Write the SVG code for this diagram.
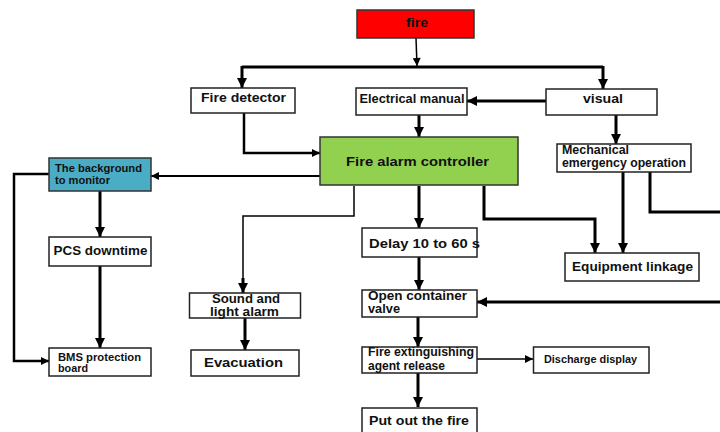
<svg xmlns="http://www.w3.org/2000/svg" width="720" height="432" viewBox="0 0 720 432">
<defs>
<marker id="ah" markerUnits="userSpaceOnUse" markerWidth="10" markerHeight="10" refX="10" refY="5" orient="auto" viewBox="0 0 10 10">
<path d="M0,0 L10,5 L0,10 z" fill="#000"/>
</marker>
<marker id="ahs" markerUnits="userSpaceOnUse" markerWidth="9" markerHeight="8" refX="10" refY="5" orient="auto" viewBox="0 0 10 10">
<path d="M0,0 L10,5 L0,10 z" fill="#000"/>
</marker>
</defs>
<style>
.box{fill:#fff;stroke:#222;stroke-width:1.5}
.t{font-family:"Liberation Sans",Arial,sans-serif;font-weight:bold;fill:#111;font-size:12px}
.s{font-size:10px}
.c{fill:none;stroke:#000;stroke-width:3}
.c.a{marker-end:url(#ah)}
.n{fill:none;stroke:#000;stroke-width:1.5}
.n.a{marker-end:url(#ahs)}
</style>
<rect width="720" height="432" fill="#fff"/>
<g id="connectors">
<path class="n a" d="M416,38 L417,66"/>
<path class="c" d="M242,67 H603"/>
<path class="c a" d="M242,66 V88"/>
<path class="c a" d="M603,66 V89"/>
<path class="c a" d="M546,101 H467"/>
<path class="c a" d="M419,115 V137"/>
<path class="n a" d="M244,113 V153 H320" style="stroke-width:2.5"/>
<path class="n a" d="M320,176 H151" style="stroke-width:2"/>
<path class="n a" d="M49,174 H14 V361 H49" style="stroke-width:2.5"/>
<path class="c a" d="M100,191 V237"/>
<path class="c a" d="M100,266 V348"/>
<path class="n" d="M354,186 V216 H243 V280"/>
<path class="c a" d="M243,278 V293"/>
<path class="c a" d="M245,318 V350"/>
<path class="c a" d="M419,186 V228"/>
<path class="c a" d="M419,257 V290"/>
<path class="c a" d="M720,302 H477"/>
<path class="c a" d="M418,317 V347"/>
<path class="n a" d="M477,359 H533"/>
<path class="c a" d="M418,373 V407"/>
<path class="c a" d="M484,186 V219 H595 V253"/>
<path class="c a" d="M616,115 V144"/>
<path class="c a" d="M623,172 V253"/>
<path class="c" d="M650,172 V212 H720"/>
</g>
<g id="fire">
<rect x="357" y="10" width="117" height="28" fill="#ff0000" stroke="#333" stroke-width="1.5"/>
<text class="t" x="406" y="27" textLength="22" lengthAdjust="spacingAndGlyphs" font-size="13">fire</text>
</g>
<g id="fire-detector">
<rect class="box" x="191" y="88" width="104" height="25"/>
<text class="t" x="201" y="102" textLength="85" lengthAdjust="spacingAndGlyphs">Fire detector</text>
</g>
<g id="electrical-manual">
<rect class="box" x="356" y="88" width="111" height="27"/>
<text class="t" x="359.5" y="103" textLength="105" lengthAdjust="spacingAndGlyphs" font-size="11">Electrical manual</text>
</g>
<g id="visual">
<rect class="box" x="546" y="89" width="111" height="26"/>
<text class="t" x="583" y="103" textLength="40" lengthAdjust="spacingAndGlyphs">visual</text>
</g>
<g id="fire-alarm-controller">
<rect x="320" y="137" width="198" height="48" fill="#92d050" stroke="#333" stroke-width="1.5"/>
<text class="t" x="346" y="165.5" textLength="143" lengthAdjust="spacingAndGlyphs" font-size="12.5">Fire alarm controller</text>
</g>
<g id="background-monitor">
<rect x="49" y="158" width="102" height="33" fill="#4bacc6" stroke="#333" stroke-width="1.5"/>
<text class="t s" x="55" y="171.5" textLength="87" lengthAdjust="spacingAndGlyphs">The background</text>
<text class="t s" x="55" y="183.5" textLength="55" lengthAdjust="spacingAndGlyphs">to monitor</text>
</g>
<g id="mechanical-emergency">
<rect class="box" x="557" y="144" width="134" height="28"/>
<text class="t" x="562" y="154" textLength="67" lengthAdjust="spacingAndGlyphs" font-size="9">Mechanical</text>
<text class="t" x="562" y="166.5" textLength="124" lengthAdjust="spacingAndGlyphs" font-size="9">emergency operation</text>
</g>
<g id="pcs-downtime">
<rect class="box" x="49" y="237" width="102" height="29"/>
<text class="t" x="53.5" y="255" textLength="94" lengthAdjust="spacingAndGlyphs">PCS downtime</text>
</g>
<g id="delay">
<rect class="box" x="362" y="228" width="115" height="29"/>
<text class="t" x="369" y="247.5" textLength="111" lengthAdjust="spacingAndGlyphs">Delay 10 to 60 s</text>
</g>
<g id="equipment-linkage">
<rect class="box" x="565" y="253" width="134" height="28"/>
<text class="t" x="572" y="270.5" textLength="121" lengthAdjust="spacingAndGlyphs">Equipment linkage</text>
</g>
<g id="sound-light-alarm">
<rect class="box" x="189.5" y="293" width="111" height="25"/>
<text class="t" x="212" y="302.5" textLength="68" lengthAdjust="spacingAndGlyphs" font-size="11">Sound and</text>
<text class="t" x="210" y="315.5" textLength="69" lengthAdjust="spacingAndGlyphs" font-size="11">light alarm</text>
</g>
<g id="open-container-valve">
<rect class="box" x="362" y="290" width="115" height="27"/>
<text class="t" x="368" y="299.5" textLength="99" lengthAdjust="spacingAndGlyphs" font-size="11.5">Open container</text>
<text class="t" x="368" y="312.5" textLength="32" lengthAdjust="spacingAndGlyphs" font-size="11.5">valve</text>
</g>
<g id="bms-protection-board">
<rect class="box" x="49" y="348" width="102" height="28"/>
<text class="t s" x="58" y="360.5" textLength="83" lengthAdjust="spacingAndGlyphs">BMS protection</text>
<text class="t s" x="58" y="371.5" textLength="30" lengthAdjust="spacingAndGlyphs">board</text>
</g>
<g id="evacuation">
<rect class="box" x="191" y="350" width="108" height="26"/>
<text class="t" x="204" y="366.5" textLength="79" lengthAdjust="spacingAndGlyphs" font-size="12.5">Evacuation</text>
</g>
<g id="fire-extinguishing">
<rect class="box" x="362" y="347" width="115" height="26"/>
<text class="t" x="368" y="356" textLength="106" lengthAdjust="spacingAndGlyphs" font-size="11.5">Fire extinguishing</text>
<text class="t" x="368" y="369.5" textLength="77" lengthAdjust="spacingAndGlyphs" font-size="11.5">agent release</text>
</g>
<g id="discharge-display">
<rect class="box" x="533.5" y="347" width="115.5" height="26"/>
<text class="t s" x="544" y="362.5" textLength="93" lengthAdjust="spacingAndGlyphs">Discharge display</text>
</g>
<g id="put-out-fire">
<rect class="box" x="362" y="408" width="115" height="34"/>
<text class="t" x="369" y="425" textLength="100" lengthAdjust="spacingAndGlyphs" font-size="12.5">Put out the fire</text>
</g>
</svg>
